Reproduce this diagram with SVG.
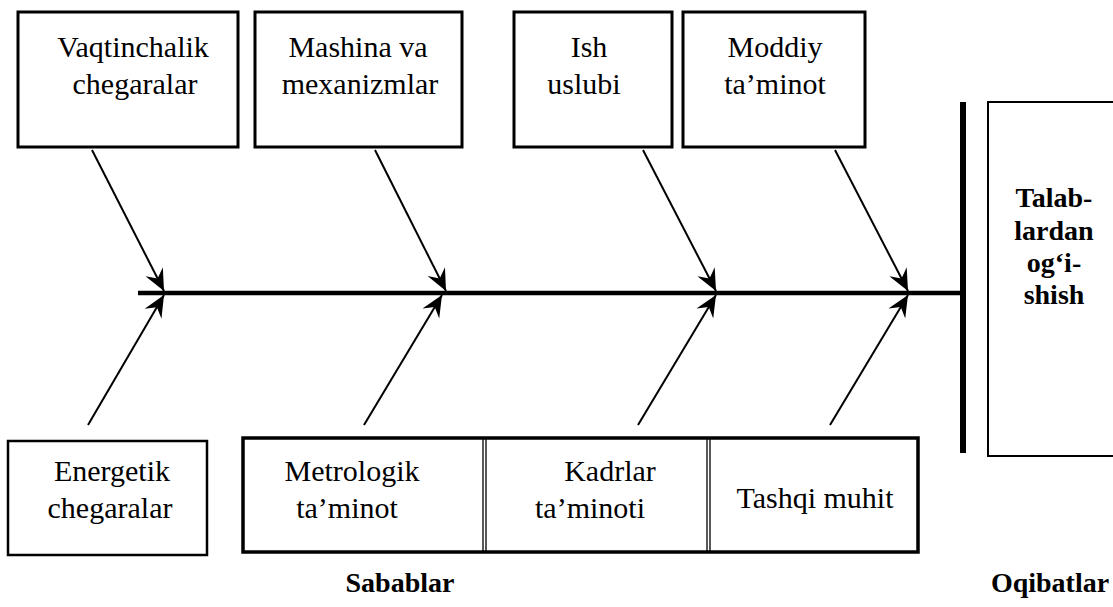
<svg xmlns="http://www.w3.org/2000/svg" width="1113" height="607" viewBox="0 0 1113 607">
<style>
.box{fill:#fff;stroke:#000;stroke-width:3}
.cell{fill:#fff;stroke:#000;stroke-width:1.3}
.t{font-size:30px}
.b{font-size:28px;font-weight:bold}
.lab{font-size:28px;font-weight:bold}
.arr{stroke:#000;stroke-width:2;fill:none;marker-end:url(#ah)}
</style>
<defs>
<marker id="ah" markerUnits="userSpaceOnUse" markerWidth="26" markerHeight="26" viewBox="-22 -11 24 22" refX="0" refY="0" orient="auto">
<path d="M0,0 L-20,-9 L-13,0 L-20,9 Z" fill="#000"/>
</marker>
</defs>
<g id="connectors">
<line x1="138" y1="293" x2="962" y2="293" stroke="#000" stroke-width="4.5"/>
<line x1="963" y1="102" x2="963" y2="453" stroke="#000" stroke-width="6"/>
<line class="arr" x1="92" y1="150" x2="164" y2="291"/>
<line class="arr" x1="375" y1="150" x2="446" y2="291"/>
<line class="arr" x1="643" y1="150" x2="716" y2="291"/>
<line class="arr" x1="835" y1="150" x2="908" y2="291"/>
<line class="arr" x1="88" y1="425" x2="164" y2="295"/>
<line class="arr" x1="364" y1="425" x2="442" y2="295"/>
<line class="arr" x1="638" y1="425" x2="716" y2="295"/>
<line class="arr" x1="830" y1="425" x2="908" y2="295"/>
</g>
<g font-family="Liberation Serif, Times New Roman, serif" fill="#000" text-anchor="middle">
<g id="n1"><rect class="box" x="18" y="12" width="220" height="135"/>
<text class="t" x="133" y="57">Vaqtinchalik</text><text class="t" x="135" y="94">chegaralar</text></g>
<g id="n2"><rect class="box" x="255" y="12" width="207" height="135"/>
<text class="t" x="358" y="57">Mashina va</text><text class="t" x="360" y="94">mexanizmlar</text></g>
<g id="n3"><rect class="box" x="514" y="12" width="158" height="135"/>
<text class="t" x="589" y="57">Ish</text><text class="t" x="584" y="94">uslubi</text></g>
<g id="n4"><rect class="box" x="683" y="12" width="182" height="135"/>
<text class="t" x="775" y="57">Moddiy</text><text class="t" x="775" y="94">ta’minot</text></g>
<g id="n5"><rect x="988" y="102" width="130" height="354" fill="#fff" stroke="#000" stroke-width="2"/>
<text class="b" x="1054" y="207">Talab-</text><text class="b" x="1054" y="240">lardan</text><text class="b" x="1054" y="272">og‘i-</text><text class="b" x="1054" y="304">shish</text></g>
<g id="n6"><rect x="8" y="441" width="199" height="114" fill="#fff" stroke="#000" stroke-width="2.5"/>
<text class="t" x="112" y="481">Energetik</text><text class="t" x="110" y="518">chegaralar</text></g>
<g id="n7"><rect class="cell" x="243" y="438" width="240" height="114"/>
<text class="t" x="352" y="481">Metrologik</text><text class="t" x="347" y="518">ta’minot</text></g>
<g id="n8"><rect class="cell" x="486" y="438" width="221" height="114"/>
<text class="t" x="610" y="481">Kadrlar</text><text class="t" x="590" y="518">ta’minoti</text></g>
<g id="n9"><rect class="cell" x="710" y="438" width="208" height="114"/>
<text class="t" x="815" y="508">Tashqi muhit</text></g>
<rect id="frame" x="243" y="438" width="675" height="114" fill="none" stroke="#000" stroke-width="3.5"/>
<text class="lab" x="400" y="592">Sabablar</text>
<text class="lab" x="1050" y="592">Oqibatlar</text>
</g>
</svg>
